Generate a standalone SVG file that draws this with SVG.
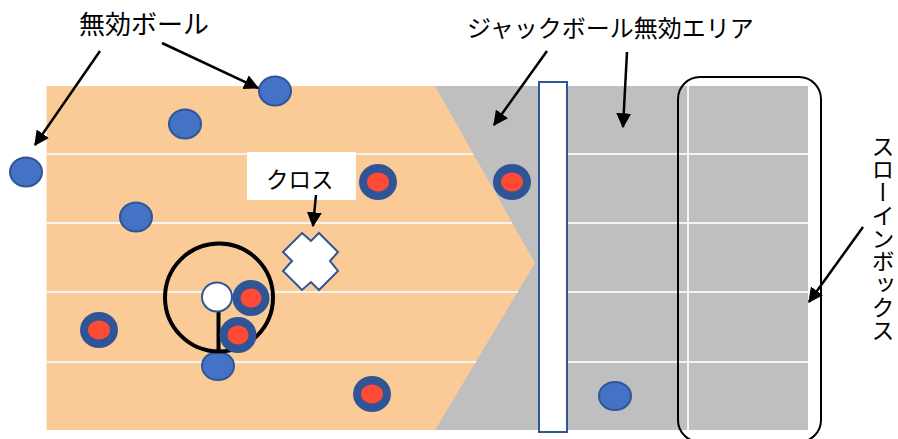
<svg xmlns="http://www.w3.org/2000/svg" width="898" height="439" viewBox="0 0 898 439">
  <style>
    .lbl { font-family: "Noto Sans CJK JP", "Noto Sans", sans-serif; fill: #000; }
    .lane { stroke: #F4F4F4; stroke-width: 2; fill: none; }
    .ball { fill: #4472C4; stroke: #2F5597; stroke-width: 2; }
    .ring { fill: #2F5597; }
    .core { fill: #FF4B36; }
    .arrow { stroke: #000; stroke-width: 2.5; fill: none; marker-end: url(#head); }
  </style>
  <defs>
    <marker id="head" viewBox="0 0 12 12" refX="11" refY="6" markerWidth="6" markerHeight="6" markerUnits="strokeWidth" orient="auto">
      <path d="M0,0 L12,6 L0,12 Z" fill="#000"/>
    </marker>
  </defs>

  <rect width="898" height="439" fill="#fff"/>

  <!-- court surface -->
  <g id="court">
    <rect x="434" y="86" width="374" height="344" fill="#BFBFBF"/>
    <polygon points="46,86 435,86 535,263 435,430 46,430" fill="#FBCB97"/>
    <!-- lane lines, orange zone -->
    <line class="lane" x1="46" y1="154" x2="473" y2="154"/>
    <line class="lane" x1="46" y1="223" x2="512" y2="223"/>
    <line class="lane" x1="46" y1="292" x2="518" y2="292"/>
    <line class="lane" x1="46" y1="362" x2="476" y2="362"/>
    <!-- lane lines, rear zone -->
    <line class="lane" x1="567" y1="154" x2="808" y2="154"/>
    <line class="lane" x1="567" y1="223" x2="808" y2="223"/>
    <line class="lane" x1="567" y1="292" x2="808" y2="292"/>
    <line class="lane" x1="567" y1="362" x2="808" y2="362"/>
    <line class="lane" x1="688" y1="86" x2="688" y2="430"/>
    <line x1="46.5" y1="86" x2="46.5" y2="430" stroke="#FDE6CE" stroke-width="1"/>
  </g>

  <!-- foul line bar -->
  <g id="bar">
    <rect x="539" y="82" width="28" height="350" fill="#fff" stroke="#2F5597" stroke-width="2"/>
  </g>

  <!-- throwing box outline -->
  <g id="throwbox">
    <rect x="678" y="77" width="143" height="365" rx="22" ry="22" fill="none" stroke="#000" stroke-width="2"/>
  </g>

  <!-- invalid (blue) balls -->
  <g id="balls-blue">
    <ellipse class="ball" cx="275" cy="91" rx="16" ry="14.5"/>
    <ellipse class="ball" cx="185" cy="124" rx="16" ry="14.5"/>
    <ellipse class="ball" cx="26" cy="172" rx="16" ry="14.5"/>
    <ellipse class="ball" cx="136" cy="217" rx="16" ry="14.5"/>
    <ellipse class="ball" cx="218" cy="366" rx="16" ry="14"/>
    <ellipse class="ball" cx="615" cy="396" rx="16" ry="14"/>
  </g>

  <!-- red balls -->
  <g id="balls-red">
    <ellipse class="ring" cx="378" cy="182" rx="19" ry="18"/>
    <ellipse class="core" cx="378" cy="182" rx="11" ry="9.5"/>
    <ellipse class="ring" cx="512" cy="182" rx="19" ry="18"/>
    <ellipse class="core" cx="512" cy="182" rx="11" ry="9.5"/>
    <ellipse class="ring" cx="99" cy="330" rx="19" ry="18"/>
    <ellipse class="core" cx="99" cy="330" rx="11" ry="9.5"/>
    <ellipse class="ring" cx="372" cy="394" rx="19" ry="18"/>
    <ellipse class="core" cx="372" cy="394" rx="11" ry="9.5"/>
  </g>

  <!-- jack ball with measuring circle -->
  <g id="jack">
    <circle cx="219" cy="297.5" r="54" fill="none" stroke="#000" stroke-width="4"/>
    <line x1="218.5" y1="311" x2="218.5" y2="353" stroke="#000" stroke-width="4"/>
    <ellipse class="ring" cx="238" cy="335" rx="18.5" ry="18"/>
    <ellipse class="core" cx="238" cy="335" rx="10.5" ry="9.5"/>
    <ellipse class="ring" cx="251" cy="298" rx="18.5" ry="18"/>
    <ellipse class="core" cx="251" cy="298" rx="10.5" ry="9.5"/>
    <ellipse cx="217" cy="297" rx="15" ry="14.5" fill="#fff" stroke="#2F5597" stroke-width="2"/>
  </g>

  <!-- cross marker -->
  <g id="cross">
    <polygon points="302,233 311,241 319,233 338,252 330,261 338,271 319,290 311,282 302,290 283,271 292,261 283,252" fill="#fff" stroke="#2F5597" stroke-width="2"/>
  </g>

  <!-- labels -->
  <g id="label-cross">
    <rect x="247" y="152" width="109" height="48" fill="#fff"/>
    <text class="lbl" x="266" y="188" font-size="22.5">クロス</text>
  </g>
  <g id="label-invalid-ball">
    <text class="lbl" x="79" y="34" font-size="26">無効ボール</text>
  </g>
  <g id="label-jack-area">
    <text class="lbl" x="467" y="37" font-size="24">ジャックボール無効エリア</text>
  </g>
  <g id="label-throwbox">
    <text class="lbl" x="883" y="135" font-size="23" style="writing-mode: vertical-rl;">スローインボックス</text>
  </g>

  <!-- connectors -->
  <g id="connectors">
    <line class="arrow" x1="100" y1="51" x2="35" y2="145"/>
    <line class="arrow" x1="162" y1="43" x2="258" y2="88"/>
    <line class="arrow" x1="547" y1="51" x2="494" y2="125"/>
    <line class="arrow" x1="627" y1="52" x2="623" y2="127"/>
    <line class="arrow" x1="316" y1="195" x2="313" y2="226"/>
    <line class="arrow" x1="863" y1="227" x2="809" y2="302"/>
  </g>
</svg>
